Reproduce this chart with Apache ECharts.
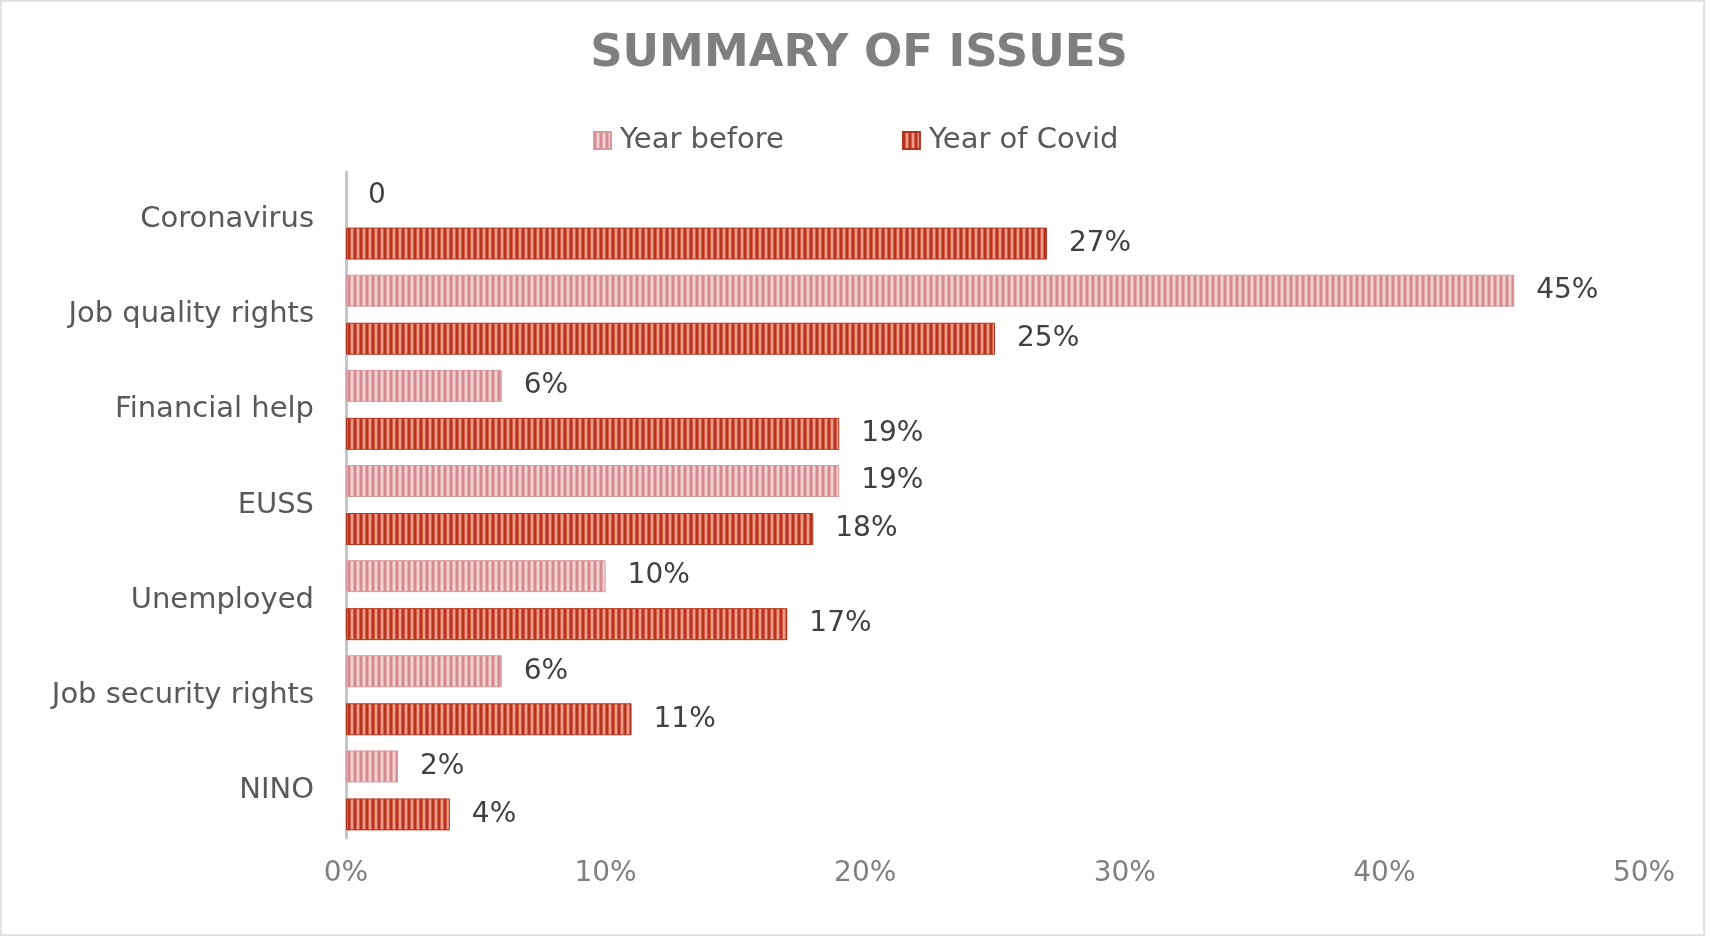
<!DOCTYPE html>
<html>
<head>
<meta charset="utf-8">
<script src="https://cdn.jsdelivr.net/npm/echarts@6/dist/echarts.min.js"></script>
<style>
html,body{margin:0;padding:0;background:#fff;}
#chart{width:1718px;height:939px;}
</style>
</head>
<body>
<div id="chart"></div>
<script>
const categories = ['Coronavirus', 'Job quality rights', 'Financial help', 'EUSS', 'Unemployed', 'Job security rights', 'NINO'];
const seriesNames = ['Year before', 'Year of Covid'];
const yearBefore = [0, 45, 6, 19, 10, 6, 2];
const yearOfCovid = [27, 25, 19, 18, 17, 11, 4];
const xTicks = [0, 10, 20, 30, 40, 50];

function stripePattern(dark, mid, light) {
  const c = document.createElement('canvas');
  c.width = 6; c.height = 10;
  const ctx = c.getContext('2d');
  const cols = [dark, dark, mid, light, light, mid];
  cols.forEach((col, i) => { ctx.fillStyle = col; ctx.fillRect(i, 0, 1, 10); });
  return { image: c, repeat: 'repeat' };
}

const font = 'DejaVu Sans';
const chart = echarts.init(document.getElementById('chart'), null, { renderer: 'canvas' });

const labelFmt = p => (p.value === 0 ? '0' : p.value + '%');
const toItems = arr => arr.map(v => (v === 0 ? { value: v, itemStyle: { borderWidth: 0 } } : v));

chart.setOption({
  backgroundColor: '#ffffff',
  animation: false,
  title: {
    text: 'SUMMARY OF ISSUES',
    left: 'center',
    top: 27,
    textStyle: { fontFamily: font, fontSize: 45, fontWeight: 'bold', color: '#7f7f7f' }
  },
  legend: {
    data: seriesNames,
    left: 588,
    top: 121,
    icon: 'rect',
    itemWidth: 17,
    itemHeight: 17,
    itemGap: 118,
    textStyle: { fontFamily: font, fontSize: 29, color: '#595959', padding: [0, 0, 0, 4] }
  },
  grid: { left: 346, right: 74, top: 172, bottom: 101, containLabel: false },
  xAxis: {
    type: 'value',
    min: xTicks[0],
    max: xTicks[xTicks.length - 1],
    interval: 10,
    axisLine: { show: false },
    axisTick: { show: false },
    splitLine: { show: false },
    axisLabel: {
      margin: 22,
      fontFamily: font,
      fontSize: 28,
      color: '#7f7f7f',
      formatter: v => v + '%'
    }
  },
  yAxis: {
    type: 'category',
    data: categories,
    inverse: true,
    axisLine: { show: true, lineStyle: { color: '#c6c6c6', width: 3 } },
    axisTick: { show: false },
    axisLabel: { margin: 32, fontFamily: font, fontSize: 29, color: '#595959' }
  },
  series: [
    {
      name: seriesNames[0],
      type: 'bar',
      data: toItems(yearBefore),
      barWidth: 32,
      barGap: '50%',
      itemStyle: { color: stripePattern('#d38d92', '#e3abaf', '#f4d3d3'), borderColor: '#d7979b', borderWidth: 1 },
      label: { show: true, position: 'right', distance: 22, fontFamily: font, fontSize: 28, color: '#404040', formatter: labelFmt }
    },
    {
      name: seriesNames[1],
      type: 'bar',
      data: toItems(yearOfCovid),
      barWidth: 32,
      barGap: '50%',
      itemStyle: { color: stripePattern('#b5341f', '#d3604b', '#ee9a88'), borderColor: '#b5341f', borderWidth: 1 },
      label: { show: true, position: 'right', distance: 22, fontFamily: font, fontSize: 28, color: '#404040', formatter: labelFmt }
    }
  ],
  graphic: [
    {
      type: 'rect',
      silent: true,
      shape: { x: 1, y: 1, width: 1703, height: 934 },
      style: { fill: null, stroke: '#e2e2e2', lineWidth: 2 }
    }
  ]
});
</script>
</body>
</html>
